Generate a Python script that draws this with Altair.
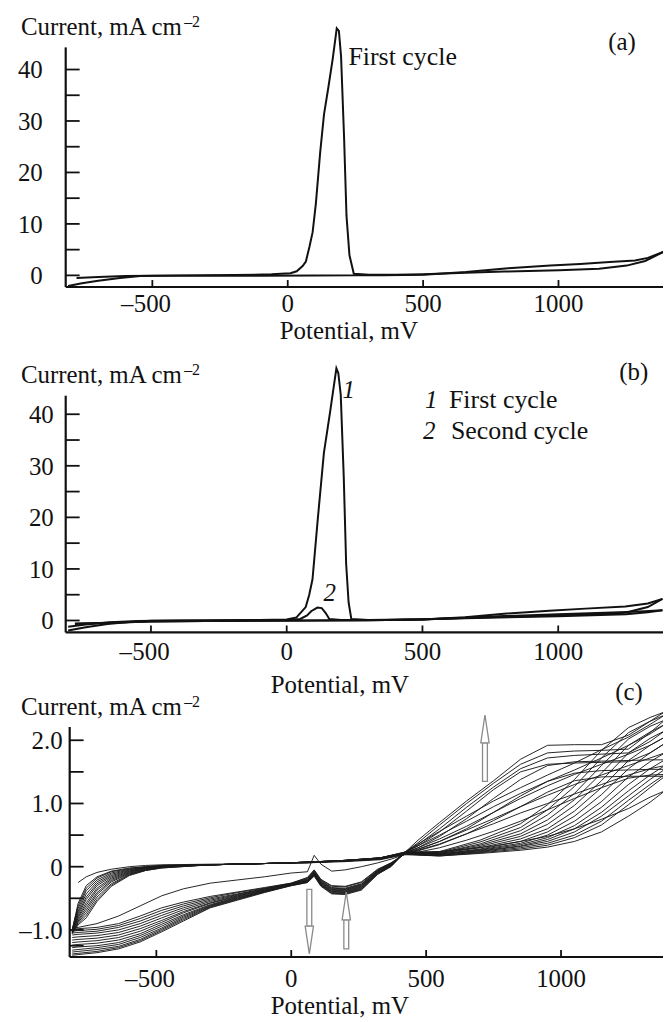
import altair as alt
import pandas as pd

FONT = "Liberation Serif, Times New Roman, Times, DejaVu Serif, serif"
INK = "#111111"
W = 600  # plot width shared by the three panels

# ---------------- panel (a): first cycle ----------------
A_FWD_POT = [-811, -760, -700, -620, -545, -400, -200, -60, 10, 33, 55, 67, 80, 92, 104, 120,
             134, 150, 166, 181, 189, 197, 208, 217, 228, 244, 300, 400, 500, 658, 800, 1002,
             1150, 1252, 1320, 1389]
A_FWD_CUR = [-2.06, -1.55, -1.05, -0.5, -0.1, 0.0, 0.05, 0.2, 0.4, 0.8, 1.8, 2.7, 5.5, 8.4, 14.0,
             24.0, 31.3, 36.5, 42.0, 48.0, 47.5, 42.5, 27.0, 11.6, 3.9, 0.3, 0.1, 0.1, 0.2, 0.5,
             0.75, 1.0, 1.3, 1.9, 2.8, 4.6]
A_REV_POT = [1330, 1283, 1189, 1080, 970, 814, 658, 502, 350, 250, 100, -100, -300, -500, -600,
             -700, -780]
A_REV_CUR = [3.4, 2.9, 2.6, 2.2, 1.9, 1.4, 0.65, 0.13, 0.03, 0.0, -0.02, -0.05, -0.08, -0.05,
             -0.12, -0.3, -0.5]

# ---------------- panel (b): first and second cycles ----------------
B1_FWD_POT = [-805, -740, -660, -580, -500, -300, -100, 0, 36, 70, 83, 95, 115, 137, 160, 183,
              190, 199, 210, 219, 228, 238, 300, 500, 657, 800, 967, 1100, 1247, 1330, 1384]
B1_FWD_CUR = [-1.95, -1.3, -0.7, -0.3, -0.05, 0.02, 0.1, 0.2, 0.6, 2.6, 5.0, 8.0, 20.0, 32.5,
              40.5, 48.9, 48.0, 43.8, 28.0, 10.9, 3.5, 0.3, 0.1, 0.25, 0.5, 0.7, 0.9, 1.1, 1.5,
              2.6, 4.2]
B1_REV_POT = [1330, 1247, 1100, 967, 800, 657, 500, 300, 100, -100, -300, -500, -650, -780]
B1_REV_CUR = [3.3, 2.7, 2.3, 1.9, 1.3, 0.64, 0.2, 0.05, 0.0, -0.05, -0.1, -0.2, -0.45, -0.6]

B2_FWD_POT = [-805, -740, -650, -550, -400, -200, 0, 50, 75, 90, 113, 129, 143, 157, 200, 400,
              658, 1000, 1250, 1330, 1384]
B2_FWD_CUR = [-1.2, -0.8, -0.35, -0.1, 0.0, 0.05, 0.1, 0.3, 1.0, 1.8, 2.5, 2.4, 1.5, 0.3, 0.1,
              0.1, 0.45, 0.8, 1.2, 1.6, 2.0]
B2_REV_POT = [1300, 1200, 1000, 800, 658, 500, 300, 100, -100, -300, -500, -650, -780]
B2_REV_CUR = [1.75, 1.55, 1.2, 0.85, 0.55, 0.2, 0.05, 0.0, -0.05, -0.1, -0.2, -0.45, -0.7]

# ---------------- panel (c): repeated cycling ----------------
C_FWD_POT = [-812, -790, -760, -720, -667, -600, -540, -480, -300, -100, 50, 200, 330, 420,
             550, 700, 850, 950, 1050, 1150, 1250, 1330, 1385]
C_FWD_CUR = [
    [None, -0.25, -0.16, -0.09, -0.04, 0.00, 0.02, 0.03, 0.04, 0.05, 0.06, 0.08, 0.11, 0.19,
     0.17, 0.21, 0.26, 0.31, 0.40, 0.55, 0.80, 1.02, 1.20],
    [-1.00, -0.58, -0.30, -0.16, -0.07, -0.02, 0.00, 0.02, 0.03, 0.05, 0.06, 0.09, 0.12, 0.20,
     0.17, 0.22, 0.28, 0.34, 0.46, 0.66, 0.98, 1.25, 1.43],
    [-1.00, -0.62, -0.34, -0.18, -0.08, -0.03, 0.00, 0.02, 0.03, 0.05, 0.06, 0.09, 0.12, 0.20,
     0.18, 0.23, 0.30, 0.37, 0.50, 0.72, 1.05, 1.30, 1.46],
    [-1.01, -0.66, -0.38, -0.21, -0.10, -0.04, -0.01, 0.01, 0.03, 0.05, 0.07, 0.09, 0.12, 0.20,
     0.18, 0.24, 0.32, 0.40, 0.55, 0.80, 1.12, 1.38, 1.54],
    [-1.01, -0.70, -0.43, -0.24, -0.12, -0.05, -0.01, 0.01, 0.03, 0.05, 0.07, 0.09, 0.13, 0.21,
     0.19, 0.25, 0.33, 0.43, 0.60, 0.86, 1.20, 1.45, 1.60],
    [-1.02, -0.73, -0.48, -0.27, -0.14, -0.06, -0.02, 0.01, 0.03, 0.05, 0.07, 0.09, 0.13, 0.21,
     0.19, 0.26, 0.35, 0.46, 0.65, 0.94, 1.30, 1.55, 1.69],
    [-1.02, -0.76, -0.52, -0.30, -0.16, -0.07, -0.02, 0.01, 0.03, 0.05, 0.07, 0.09, 0.13, 0.21,
     0.20, 0.27, 0.37, 0.50, 0.72, 1.03, 1.42, 1.66, 1.80],
    [-1.03, -0.79, -0.57, -0.34, -0.18, -0.08, -0.03, 0.00, 0.03, 0.05, 0.07, 0.10, 0.13, 0.21,
     0.20, 0.28, 0.40, 0.55, 0.80, 1.14, 1.55, 1.80, 1.95],
    [-1.03, -0.81, -0.61, -0.37, -0.20, -0.09, -0.03, 0.00, 0.03, 0.05, 0.07, 0.10, 0.13, 0.22,
     0.21, 0.30, 0.44, 0.60, 0.88, 1.25, 1.68, 1.92, 2.05],
    [-1.04, -0.84, -0.65, -0.41, -0.22, -0.10, -0.04, 0.00, 0.03, 0.05, 0.07, 0.10, 0.14, 0.22,
     0.21, 0.32, 0.48, 0.67, 0.97, 1.36, 1.80, 2.03, 2.15],
    [-1.04, -0.86, -0.69, -0.44, -0.24, -0.11, -0.05, -0.01, 0.03, 0.05, 0.07, 0.10, 0.14, 0.22,
     0.22, 0.34, 0.52, 0.74, 1.06, 1.48, 1.92, 2.13, 2.25],
    [-1.05, -0.88, -0.73, -0.48, -0.27, -0.12, -0.05, -0.01, 0.03, 0.05, 0.07, 0.10, 0.14, 0.22,
     0.22, 0.36, 0.57, 0.82, 1.16, 1.60, 2.02, 2.22, 2.32],
    [-1.05, -0.90, -0.77, -0.52, -0.29, -0.13, -0.06, -0.02, 0.03, 0.05, 0.07, 0.10, 0.14, 0.23,
     0.23, 0.39, 0.62, 0.90, 1.27, 1.72, 2.12, 2.30, 2.40],
    [-1.06, -0.92, -0.81, -0.55, -0.31, -0.14, -0.06, -0.02, 0.03, 0.05, 0.07, 0.10, 0.14, 0.23,
     0.24, 0.42, 0.68, 0.98, 1.38, 1.84, 2.20, 2.36, 2.45],
]
C_REV_POT = [1385, 1330, 1250, 1150, 1050, 950, 850, 750, 650, 550, 470, 420,
             370, 320, 260, 200, 150, 110, 85, 60,
             0, -100, -200, -300, -400, -480, -560, -640, -720, -790, -812]
C_REV_CUR = [
    [1.20, 1.10, 0.92, 0.75, 0.60, 0.48, 0.40, 0.33, 0.28, 0.24, 0.21, 0.19,
     0.12, 0.06, 0.00, -0.05, -0.07, 0.04, 0.18, -0.08,
     -0.10, -0.16, -0.21, -0.26, -0.35, -0.46, -0.62, -0.78, -0.90, -0.96, -0.97],
    [1.43, 1.43, 1.43, 1.42, 1.36, 1.18, 0.95, 0.73, 0.52, 0.35, 0.25, 0.20,
     0.06, -0.04, -0.24, -0.31, -0.30, -0.20, -0.05, -0.17,
     -0.26, -0.33, -0.40, -0.47, -0.56, -0.65, -0.78, -0.90, -0.96, -0.98, -0.99],
    [1.46, 1.45, 1.40, 1.25, 1.08, 0.90, 0.72, 0.56, 0.42, 0.30, 0.23, 0.20,
     0.06, -0.05, -0.25, -0.32, -0.31, -0.21, -0.06, -0.18,
     -0.26, -0.34, -0.41, -0.49, -0.59, -0.69, -0.82, -0.93, -0.99, -1.01, -1.02],
    [1.54, 1.54, 1.53, 1.52, 1.48, 1.35, 1.12, 0.86, 0.60, 0.40, 0.27, 0.20,
     0.05, -0.06, -0.27, -0.34, -0.33, -0.22, -0.07, -0.19,
     -0.27, -0.35, -0.43, -0.51, -0.62, -0.73, -0.86, -0.96, -1.02, -1.04, -1.05],
    [1.60, 1.55, 1.45, 1.30, 1.15, 1.00, 0.85, 0.68, 0.52, 0.36, 0.26, 0.21,
     0.05, -0.06, -0.28, -0.35, -0.34, -0.23, -0.08, -0.20,
     -0.27, -0.35, -0.44, -0.53, -0.65, -0.77, -0.90, -1.00, -1.05, -1.07, -1.08],
    [1.69, 1.69, 1.68, 1.67, 1.66, 1.60, 1.38, 1.08, 0.76, 0.48, 0.30, 0.21,
     0.04, -0.07, -0.29, -0.36, -0.35, -0.24, -0.09, -0.21,
     -0.27, -0.36, -0.45, -0.55, -0.68, -0.81, -0.94, -1.04, -1.09, -1.11, -1.12],
    [1.80, 1.72, 1.60, 1.45, 1.30, 1.13, 0.95, 0.76, 0.58, 0.40, 0.28, 0.22,
     0.04, -0.08, -0.30, -0.37, -0.36, -0.25, -0.10, -0.22,
     -0.28, -0.37, -0.46, -0.57, -0.71, -0.85, -0.98, -1.08, -1.13, -1.15, -1.16],
    [1.95, 1.80, 1.66, 1.65, 1.64, 1.62, 1.50, 1.22, 0.88, 0.55, 0.33, 0.22,
     0.03, -0.08, -0.31, -0.38, -0.37, -0.26, -0.10, -0.22,
     -0.28, -0.37, -0.47, -0.58, -0.73, -0.88, -1.02, -1.12, -1.17, -1.19, -1.20],
    [2.05, 1.92, 1.78, 1.62, 1.46, 1.28, 1.08, 0.86, 0.64, 0.44, 0.30, 0.22,
     0.03, -0.09, -0.32, -0.39, -0.38, -0.27, -0.11, -0.23,
     -0.28, -0.38, -0.48, -0.60, -0.76, -0.91, -1.06, -1.16, -1.21, -1.23, -1.24],
    [2.15, 1.98, 1.80, 1.78, 1.76, 1.72, 1.55, 1.26, 0.94, 0.60, 0.35, 0.22,
     0.02, -0.10, -0.33, -0.40, -0.39, -0.28, -0.12, -0.23,
     -0.29, -0.39, -0.49, -0.61, -0.78, -0.94, -1.09, -1.20, -1.25, -1.27, -1.28],
    [2.25, 2.10, 1.92, 1.72, 1.53, 1.35, 1.16, 0.95, 0.72, 0.50, 0.33, 0.23,
     0.02, -0.10, -0.34, -0.41, -0.40, -0.28, -0.12, -0.24,
     -0.29, -0.39, -0.50, -0.62, -0.80, -0.97, -1.12, -1.23, -1.28, -1.31, -1.32],
    [2.32, 2.12, 1.86, 1.84, 1.83, 1.80, 1.62, 1.32, 1.00, 0.66, 0.38, 0.22,
     0.01, -0.11, -0.35, -0.42, -0.41, -0.29, -0.13, -0.24,
     -0.29, -0.40, -0.51, -0.63, -0.82, -0.99, -1.15, -1.26, -1.31, -1.34, -1.35],
    [2.40, 2.25, 2.05, 1.85, 1.64, 1.45, 1.25, 1.04, 0.80, 0.56, 0.36, 0.23,
     0.01, -0.12, -0.36, -0.43, -0.42, -0.30, -0.14, -0.25,
     -0.30, -0.40, -0.52, -0.64, -0.84, -1.01, -1.17, -1.28, -1.34, -1.37, -1.38],
    [2.45, 2.30, 2.08, 1.93, 1.93, 1.92, 1.70, 1.36, 1.04, 0.70, 0.42, 0.22,
     0.00, -0.12, -0.37, -0.44, -0.43, -0.31, -0.15, -0.25,
     -0.30, -0.41, -0.53, -0.65, -0.86, -1.03, -1.19, -1.30, -1.36, -1.39, -1.40],
]

# hollow arrows marking the trend with cycle number
ARROW_POT = [718, 67, 204]
ARROW_TAIL = [1.35, -0.36, -1.30]
ARROW_TIP = [2.40, -1.38, -0.40]

# axis ticks and labels
X_TICKS = [-500, 0, 500, 1000]
AB_YTICKS = [0, 5, 10, 15, 20, 25, 30, 35, 40]
AB_YLABELS = [0, 10, 20, 30, 40]
C_YTICKS = [-1.25, -1.0, -0.5, 0.0, 0.5, 1.0, 1.5, 2.0]
C_YLABELS = [-1.0, 0.0, 1.0, 2.0]
C_YLABEL_TEXT = ["\u20131.0", "0", "1.0", "2.0"]


def path_frame(parts):
    rows = []
    for seg, (pots, curs) in enumerate(parts):
        step = 0
        for p, v in zip(pots, curs):
            if v is None:
                continue
            rows.append({"seg": seg, "step": step, "pot": p, "cur": v})
            step += 1
    return pd.DataFrame(rows)


def label(txt, x, y, size=25, align="left", italic=False, baseline="alphabetic"):
    return alt.Chart(pd.DataFrame({"t": [txt]})).mark_text(
        align=align, baseline=baseline, font=FONT, fontSize=size, color=INK,
        fontStyle="italic" if italic else "normal",
    ).encode(text="t:N", x=alt.value(x), y=alt.value(y))


def current_title(y):
    return [label("Current, mA cm", -45, y), label("\u20132", 119, y - 8, size=16)]


def frame(xdom, ydom, h, ax, ytop, yticks, ylabels, ylabel_text, ylab_x, xlab_y, pot_pos):
    xs = alt.Scale(domain=xdom, nice=False, zero=False)
    ys = alt.Scale(domain=ydom, nice=False, zero=False)
    X = lambda f: alt.X(f, scale=xs, axis=None)
    Y = lambda f: alt.Y(f, scale=ys, axis=None)

    yaxis = alt.Chart(pd.DataFrame({"y0": [ydom[0]], "y1": [ytop]})).mark_rule(
        color=INK, strokeWidth=2.2).encode(x=alt.value(ax), y=Y("y1:Q"), y2="y0:Q")
    xaxis = alt.Chart(pd.DataFrame({"k": [0]})).mark_rule(color=INK, strokeWidth=2.2).encode(
        x=alt.value(ax), x2=alt.value(W), y=alt.value(h))
    yt = alt.Chart(pd.DataFrame({"v": yticks})).mark_rule(color=INK, strokeWidth=1.8).encode(
        y=Y("v:Q"), x=alt.value(ax), x2=alt.value(ax + 14))
    xt = alt.Chart(pd.DataFrame({"v": X_TICKS})).mark_rule(color=INK, strokeWidth=1.8).encode(
        x=X("v:Q"), y=alt.value(h), y2=alt.value(h - 7))
    xl_df = pd.DataFrame({"v": X_TICKS, "lab": [str(abs(v)) for v in X_TICKS]})
    xl = alt.Chart(xl_df).mark_text(
        align="center", baseline="alphabetic", font=FONT, fontSize=25, color=INK).encode(
        x=X("v:Q"), y=alt.value(xlab_y), text="lab:N")
    neg = alt.Chart(pd.DataFrame({"v": [v for v in X_TICKS if v < 0], "lab": "\u2013"})).mark_text(
        align="right", baseline="alphabetic", dx=-19, font=FONT, fontSize=25, color=INK).encode(
        x=X("v:Q"), y=alt.value(xlab_y), text="lab:N")
    yl = alt.Chart(pd.DataFrame({"v": ylabels, "lab": ylabel_text})).mark_text(
        align="right", baseline="middle", dy=1, font=FONT, fontSize=25, color=INK).encode(
        y=Y("v:Q"), x=alt.value(ylab_x), text="lab:N")
    pot = label("Potential, mV", pot_pos[0], pot_pos[1])
    return [yaxis, xaxis, yt, xt, xl, neg, yl, pot], X, Y


# ---------- (a) ----------
HA = 265
XA, YA = [-820, 1386], [-2.26, 49.0]
fa, Xa, Ya = frame(XA, YA, HA, 0, 44.3, AB_YTICKS, AB_YLABELS, [str(v) for v in AB_YLABELS],
                   -23, HA + 25, (215, HA + 52))
da = path_frame([(A_FWD_POT, A_FWD_CUR), (A_REV_POT, A_REV_CUR)])
# join the reverse sweep to the vertex of the forward sweep
da = pd.concat([da, pd.DataFrame([{"seg": 1, "step": -1, "pot": A_FWD_POT[-1], "cur": A_FWD_CUR[-1]}])])
curve_a = alt.Chart(da).mark_line(color=INK, strokeWidth=2.0, clip=True).encode(
    x=Xa("pot:Q"), y=Ya("cur:Q"), detail="seg:N", order="step:Q")
anchor = alt.Chart(pd.DataFrame({"k": [0]})).mark_point(size=1, opacity=0).encode(
    x=alt.value(-65), y=alt.value(-20))
pa = alt.layer(
    *fa, curve_a, *current_title(12),
    label("(a)", 545, 27), label("First cycle", 284, 42, size=26), anchor,
).properties(width=W, height=HA)

# ---------- (b) ----------
HB = 273
XB, YB = [-814, 1386], [-2.32, 50.39]
fb, Xb, Yb = frame(XB, YB, HB, 0, 43.6, AB_YTICKS, AB_YLABELS, [str(v) for v in AB_YLABELS],
                   -12, HB + 28, (206, HB + 61))
db = path_frame([(B1_FWD_POT, B1_FWD_CUR), (B1_REV_POT, B1_REV_CUR),
                 (B2_FWD_POT, B2_FWD_CUR), (B2_REV_POT, B2_REV_CUR)])
db = pd.concat([db, pd.DataFrame([
    {"seg": 1, "step": -1, "pot": B1_FWD_POT[-1], "cur": B1_FWD_CUR[-1]},
    {"seg": 3, "step": -1, "pot": B2_FWD_POT[-1], "cur": B2_FWD_CUR[-1]},
])])
curve_b = alt.Chart(db).mark_line(color=INK, strokeWidth=2.0, clip=True).encode(
    x=Xb("pot:Q"), y=Yb("cur:Q"), detail="seg:N", order="step:Q")
pb = alt.layer(
    *fb, curve_b, *current_title(22),
    label("(b)", 556, 19),
    label("1", 278, 37, size=25, italic=True),
    label("2", 259, 241, size=25, italic=True),
    label("1", 361, 48, size=25, italic=True), label("First cycle", 385, 48, size=26),
    label("2", 359, 79, size=25, italic=True), label("Second cycle", 387, 79, size=26),
).properties(width=W, height=HB)

# ---------- (c) ----------
HC = 252
XC, YC = [-836, 1378], [-1.428, 2.540]
fc, Xc, Yc = frame(XC, YC, HC, 4, 2.21, C_YTICKS, C_YLABELS, C_YLABEL_TEXT,
                   -3, HC + 30, (206, HC + 57))
rows = []
for k, (f, r) in enumerate(zip(C_FWD_CUR, C_REV_CUR), start=1):
    step = 0
    for p, v in list(zip(C_FWD_POT, f)) + list(zip(C_REV_POT, r)):
        if v is None:
            continue
        rows.append({"cycle": k, "step": step, "pot": p, "cur": v})
        step += 1
dc = pd.DataFrame(rows)
curve_c = alt.Chart(dc).mark_line(color="#1a1a1a", strokeWidth=0.95, clip=True).encode(
    x=Xc("pot:Q"), y=Yc("cur:Q"), detail="cycle:N", order="step:Q")

HEAD = 0.44  # arrow head length in current units
arr = pd.DataFrame({"pot": ARROW_POT, "tail": ARROW_TAIL, "tip": ARROW_TIP})
arr["up"] = arr["tip"] > arr["tail"]
arr["base"] = [t - HEAD if u else t + HEAD for t, u in zip(arr["tip"], arr["up"])]
arr["mid"] = [t - HEAD / 2 if u else t + HEAD / 2 for t, u in zip(arr["tip"], arr["up"])]
arr["x0"] = arr["pot"] - 9
arr["x1"] = arr["pot"] + 9
shafts = alt.Chart(arr).mark_rect(fill="white", stroke="#8a8a8a", strokeWidth=1.3).encode(
    x=Xc("x0:Q"), x2="x1:Q", y=Yc("tail:Q"), y2="base:Q")
heads_up = alt.Chart(arr[arr["up"]]).mark_point(
    shape="M0,-1L0.3,1L-0.3,1Z", size=780, filled=True, fill="white", stroke="#8a8a8a",
    strokeWidth=1.3, opacity=1).encode(x=Xc("pot:Q"), y=Yc("mid:Q"))
heads_down = alt.Chart(arr[~arr["up"]]).mark_point(
    shape="M0,1L0.3,-1L-0.3,-1Z", size=780, filled=True, fill="white", stroke="#8a8a8a",
    strokeWidth=1.3, opacity=1).encode(x=Xc("pot:Q"), y=Yc("mid:Q"))

pc = alt.layer(
    *fc, curve_c, shafts, heads_up, heads_down, *current_title(9),
    label("(c)", 552, -6),
).properties(width=W, height=HC)

chart = alt.vconcat(pa, pb, pc, spacing=74, bounds="flush").properties(
    padding={"left": 0, "top": 0, "right": 0, "bottom": 0}
).configure_view(stroke=None)

chart.save("out.html", embed_options={"renderer": "svg", "actions": False})
